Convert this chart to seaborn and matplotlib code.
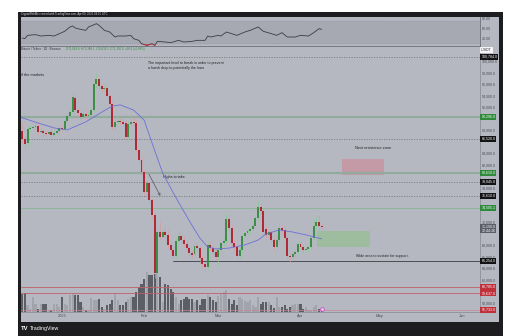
import numpy as np
import pandas as pd
import matplotlib
matplotlib.use("Agg")
import matplotlib.pyplot as plt
import matplotlib.transforms as mtransforms
from matplotlib.patches import Rectangle
import seaborn as sns

# ---------------- data ----------------
start_date = "2024-12-17"
opens = [87850, 86450, 85750, 88200, 88400, 88550, 88750, 87700, 87850, 87500,
         87350, 87700, 87150, 87500, 87850, 88400, 88200, 89600, 90450, 91150,
         93600, 91500, 91000, 90300, 90800, 90450, 90650, 91500, 96050, 96900,
         95700, 95150, 95350, 93950, 92550, 88550, 89450, 89600, 89450, 89250,
         86800, 89100, 89450, 89250, 84550, 82800, 80750, 77250, 78800, 75850,
         73250, 63150, 70300, 69450, 70300, 69800, 68050, 67150, 66100, 68750,
         69600, 68900, 68200, 67500, 66650, 66450, 67850, 67500, 65800, 64750,
         64200, 68050, 67500, 66800, 65950, 67150, 68400, 68750, 72550, 71000,
         68400, 67700, 66100, 67150, 69600, 70150, 70450, 70800, 71350, 72750,
         74650, 73950, 70800, 69800, 70300, 68900, 67700, 68900, 71000, 70650,
         69250, 66100, 65950, 66450, 66800, 68200, 67700, 67150, 67350, 67700,
         69250, 71350, 72050, 71300]
highs = [89450, 87000, 88750, 88900, 89100, 89450, 89600, 88400, 88200, 88050,
         88200, 88400, 87850, 88400, 88900, 89100, 89950, 91000, 91700, 94450,
         94100, 91850, 91350, 91150, 91500, 91150, 91850, 96550, 97950, 97250,
         96200, 95850, 95700, 94300, 92900, 90300, 90650, 90300, 89950, 89750,
         89600, 90100, 90450, 89750, 84900, 83350, 81100, 79350, 79150, 76200,
         73600, 71000, 72050, 71000, 71350, 70650, 68550, 67700, 69250, 70650,
         70100, 69600, 68750, 67850, 67150, 68400, 68400, 67850, 66100, 65100,
         68550, 68750, 68050, 67350, 67700, 68900, 69450, 73600, 73450, 71500,
         68900, 68200, 67700, 69950, 70450, 70800, 71150, 71850, 73250, 75850,
         75350, 74300, 71350, 70800, 70800, 69450, 69600, 72050, 71500, 71350,
         69600, 66650, 67000, 67350, 68750, 68750, 68050, 67850, 68050, 69800,
         72750, 73100, 73250, 71700]
lows = [85750, 84550, 85250, 87850, 88050, 88200, 87150, 87350, 87000, 87000,
        87150, 86800, 87000, 87150, 87500, 87700, 87850, 89250, 90100, 90800,
        91000, 90450, 89450, 89950, 89950, 90100, 90300, 91150, 95350, 95150,
        94650, 94800, 93600, 92200, 88050, 88050, 89100, 88900, 88550, 86450,
        86450, 88750, 88750, 84200, 81950, 80200, 76750, 76400, 75350, 72750,
        62300, 62650, 68900, 68900, 69250, 67500, 66650, 65600, 65800, 68400,
        68400, 67700, 67000, 66100, 65800, 66100, 67000, 65250, 64050, 63350,
        63700, 67000, 66300, 65450, 64400, 66650, 67850, 68400, 70450, 67850,
        67150, 65800, 65800, 66800, 69250, 69800, 70150, 70450, 71000, 72400,
        73450, 69800, 69250, 69250, 68400, 67150, 67150, 68400, 70150, 68750,
        65600, 65100, 65450, 65950, 66300, 67150, 66650, 66800, 67000, 67350,
        68900, 70800, 70650, 70800]
closes = [86450, 85600, 88200, 88400, 88550, 88750, 87700, 87850, 87500, 87350,
          87700, 87150, 87500, 87850, 88400, 88200, 89600, 90450, 91150, 93750,
          91500, 91000, 90300, 90800, 90450, 90650, 91500, 96050, 96900, 95700,
          95150, 95350, 93950, 92550, 88550, 89450, 89600, 89450, 89100, 86800,
          89100, 89450, 89250, 84550, 82800, 80750, 77250, 78800, 75850, 73250,
          63150, 70300, 69450, 70300, 69800, 68050, 67150, 66100, 68750, 69600,
          68900, 68200, 67500, 66650, 66300, 67850, 67500, 65800, 64750, 64200,
          68050, 67500, 66800, 65950, 67150, 68400, 68750, 72550, 71000, 68400,
          67700, 66100, 67150, 69600, 70150, 70450, 70800, 71350, 72750, 74650,
          73950, 70300, 69800, 70300, 68900, 67700, 68900, 71000, 70650, 69250,
          66100, 65950, 66450, 66800, 68200, 67700, 67150, 67350, 67700, 69250,
          71350, 72050, 71300, 71150]
volume = [18, 19, 7, 3, 15, 8, 3, 8, 8, 8, 2, 2, 8, 8, 5, 15, 8, 7, 17, 18,
          17, 17, 10, 5, 2, 2, 14, 12, 12, 13, 5, 3, 7, 8, 12, 18, 12, 7, 7, 10,
          13, 15, 15, 20, 25, 28, 33, 40, 37, 37, 38, 43, 35, 10, 28, 27, 23, 20, 15, 8,
          12, 13, 15, 13, 13, 10, 12, 7, 13, 13, 17, 15, 12, 10, 16, 18, 20, 22, 13, 8,
          12, 7, 15, 13, 11, 10, 12, 7, 5, 15, 8, 10, 10, 10, 7, 4, 15, 5, 5, 7,
          3, 5, 7, 8, 8, 8, 3, 5, 2, 2, 5, 7, 3, 2]

ma_day = [-16, -9, -3, 2, 9, 15, 19, 22, 27, 31, 34, 38, 42, 45, 49, 52, 55,
          58, 63, 69, 74, 77, 82, 87, 92, 98]
ma_val = [90300, 89250, 88400, 88050, 89450, 91150, 92200, 92400, 91500, 89750,
          85750, 80550, 77100, 74650, 71500, 69250, 67700, 67350, 67500, 68050,
          68900, 69950, 70650, 70300, 69800, 69100]

rsi_day = [-15, -14, -13, -10, -8, -5, -3, -1, 1, 3, 4, 5, 7, 9, 10, 13, 14, 16,
           18, 20, 21, 24, 26, 27, 29, 30, 32, 34, 35, 36, 39, 41, 44, 46, 49, 51,
           54, 55, 56, 59, 60, 62, 64, 66, 69, 71, 74, 76, 79, 81, 83, 85, 88, 90,
           93, 95, 97, 98]
rsi_val = [40, 38.7, 45.3, 46.7, 44, 45.3, 44, 48.7, 53.3, 62, 64, 60, 57.3, 55.3,
           62, 68.7, 65.3, 55.3, 52, 42, 44, 44, 45.3, 38.7, 35.3, 28.7, 25.3, 28.7,
           25.3, 33.3, 32, 30.7, 35.3, 32, 33.3, 35.3, 35.3, 44, 42, 45.3, 44, 52,
           48.7, 45.3, 52, 55.3, 62, 53.3, 48.7, 45.3, 50.7, 42, 42, 45.3, 44, 50.7,
           58.7, 57.3]

month_dates = ["2025-01-01", "2025-02-01", "2025-03-01", "2025-04-01", "2025-05-01", "2025-06-01"]
month_labels = ["2025", "Feb", "Mar", "Apr", "May", "Jun"]

price_ticks = [100000, 98000, 96000, 94000, 92000, 88000, 84000, 82000, 78000,
               72000, 68000, 66000, 64000, 62000, 58000]
dashed_levels = [100784.0, 86520.0, 79045.0, 76610.0]
thick_green_levels = [90296.0, 80610.0]
thin_green_level = 74505.1
support_level = 65254.0
red_levels = [60785.0, 59637.0, 56733.0]
last_price = 71150.0

# ---------------- style ----------------
sns.set_theme(style="white")
plt.rcParams['font.family'] = ['Liberation Sans', 'DejaVu Sans']

W, H = 510, 336
BG = "#b6b8c1"
BAND = "#a6a8b2"
TXT = "#4b4d56"
UP, DOWN = "#3b8f46", "#b02a35"
UPW, DOWNW = "#8fc49a", "#d39aa2"

def fx(px):
    return px / W

def fy(py):
    return 1 - py / H

fig = plt.figure(figsize=(W / 100, H / 100), dpi=100)
fig.patch.set_facecolor("white")
fig.patches.append(Rectangle((fx(18.3), fy(336)), fx(503) - fx(18.3), fy(11.7) - fy(336),
                             transform=fig.transFigure, fc="#1d1d20", ec="none", zorder=-2))
fig.patches.append(Rectangle((fx(20.7), fy(321.5)), fx(499.5) - fx(20.7), fy(16.5) - fy(321.5),
                             transform=fig.transFigure, fc=BG, ec="none", zorder=-1))

L_PX, R_PX = 20.7, 480.0
main_rect = [fx(L_PX), fy(312), fx(R_PX) - fx(L_PX), fy(45.5) - fy(312)]
rsi_rect = [fx(L_PX), fy(45.5), fx(R_PX) - fx(L_PX), fy(16.5) - fy(45.5)]
XMIN, XMAX = (L_PX - 62) / 2.65, (R_PX - 62) / 2.65

dates = pd.date_range(start_date, periods=len(closes), freq="D")
day = np.asarray((dates - pd.Timestamp("2025-01-01")).days, dtype=float)
o = np.array(opens, float); c = np.array(closes, float)
h = np.array(highs, float); l = np.array(lows, float)
up = c >= o

# ---------------- volume (behind) ----------------
ax_vol = fig.add_axes(main_rect)
ax_vol.patch.set_visible(False)
ax_vol.bar(day, volume, width=0.8, color=np.where(up, "#a2a4ad", "#5c5e66"), linewidth=0)
ax_vol.set_xlim(XMIN, XMAX)
ax_vol.set_ylim(0, 266.5)
ax_vol.axis("off")

# ---------------- main price axes ----------------
ax = fig.add_axes(main_rect)
ax.patch.set_visible(False)
ax.set_xlim(XMIN, XMAX)
ax.set_ylim(56385.7, 102730)

for lv in dashed_levels:
    ax.axhline(lv, color="#666870", lw=0.45, ls=(0, (2, 2)))
for lv in thick_green_levels:
    ax.axhline(lv, color="#93ab9e", lw=1.6)
ax.axhline(thin_green_level, color="#86b592", lw=0.6)
ax.plot([42, XMAX], [support_level, support_level], color="#3a3c44", lw=0.6)
ax.axhline(red_levels[0], color="#c0606a", lw=0.6)
ax.axhline(red_levels[1], color="#c0606a", lw=0.6)
ax.axhline(red_levels[2], color="#c98590", lw=0.5)

# zones
ax.add_patch(Rectangle((105.5, 80210), 16.0, 82993 - 80210, fc="#c39aa5", ec="none", zorder=1))
ax.add_patch(Rectangle((96.1, 67637), 20.1, 70471 - 67637, fc="#9dbd9e", ec="none", zorder=1))

# candles
ax.vlines(day, l, h, colors=np.where(up, UPW, DOWNW), lw=0.5, zorder=3)
body_lo = np.minimum(o, c)
body_h = np.maximum(np.abs(c - o), 120)
ax.bar(day, body_h, bottom=body_lo, width=0.72, color=np.where(up, UP, DOWN), linewidth=0, zorder=4)

# moving average
sns.lineplot(x=ma_day, y=ma_val, ax=ax, color="#6b70d6", lw=0.6, zorder=5)

# annotations
ax.annotate("", xy=(37.6, 76158), xytext=(32.3, 80784),
            arrowprops=dict(arrowstyle="->", color="#55575f", lw=0.5, mutation_scale=4))
ax.text(-15.5, 97600, "if the markets", fontsize=2.8, color="#202127", va="center", ha="left")
ax.text(32.5, 99687, "The important level to break in order to prevent", fontsize=2.6, color="#202127", va="center")
ax.text(32.5, 98817, "a harsh drop to potentially the lows", fontsize=2.6, color="#202127", va="center")
ax.text(38.3, 79863, "Highs to take.", fontsize=2.7, color="#202127", va="center")
ax.text(110.6, 84905, "Next resistance zone", fontsize=2.8, color="#202127", va="center")
ax.text(111.0, 66124, "Wide area to sustain for support.", fontsize=2.6, color="#202127", va="center")
ax.scatter([98.1], [56907], s=7, facecolor="#f2c6f2", edgecolor="#c550c5", linewidths=0.6, zorder=6)

# axes styling
for s in ["left", "top"]:
    ax.spines[s].set_visible(False)
for s in ["right", "bottom"]:
    ax.spines[s].set_color("#8e9099")
    ax.spines[s].set_linewidth(0.6)
ax.yaxis.tick_right()
ax.set_yticks(price_ticks)
ax.set_yticklabels([f"{v:,.1f}" for v in price_ticks])
ax.tick_params(axis="y", length=0, pad=1.6, labelsize=2.6, labelcolor=TXT)
md = (pd.to_datetime(month_dates) - pd.Timestamp("2025-01-01")).days
ax.set_xticks(list(md))
ax.set_xticklabels(month_labels)
ax.tick_params(axis="x", length=0, pad=1.2, labelsize=2.9, labelcolor=TXT)
ax.set_xlabel(""); ax.set_ylabel("")
ax.grid(False)

# price boxes
trans = mtransforms.blended_transform_factory(ax.transAxes, ax.transData)
def box(price, label, fc, tc="white"):
    ax.text(1.003, price, label, transform=trans, fontsize=2.6, color=tc, va="center", ha="left",
            bbox=dict(boxstyle="square,pad=0.25", fc=fc, ec="none"), clip_on=False, zorder=10)

box(101947, "USDT ", "#f4f4f6", "#333")
box(dashed_levels[0], "100,784.0", "#131316")
box(thick_green_levels[0], "90,296.0", "#2e8a3a")
box(dashed_levels[1], "86,520.0", "#131316")
box(thick_green_levels[1], "80,610.0", "#2e8a3a")
box(dashed_levels[2], "79,045.0", "#131316")
box(dashed_levels[3], "76,610.0", "#131316")
box(thin_green_level, "74,505.1", "#2e8a3a")
ax.text(1.003, 70906, f"{last_price:,.1f}\n12:44:36", transform=trans, fontsize=2.6, color="white",
        va="center", ha="left", linespacing=1.0,
        bbox=dict(boxstyle="square,pad=0.25", fc="#5b5e68", ec="none"), clip_on=False, zorder=10)
box(support_level, "65,254.0", "#131316")
box(red_levels[0], "60,785.0", "#bf303b")
box(red_levels[1], "59,637.0", "#bf303b")
box(red_levels[2], "56,733.0", "#bf303b")

# ---------------- RSI panel ----------------
ax_rsi = fig.add_axes(rsi_rect)
ax_rsi.patch.set_visible(False)
ax_rsi.set_xlim(XMIN, XMAX)
ax_rsi.set_ylim(25, 83)
ax_rsi.axhspan(29, 75, color=BAND, lw=0)
ax_rsi.axhline(75, color="#8d8f98", lw=0.35, ls=(0, (2, 2)))
ax_rsi.axhline(29, color="#8d8f98", lw=0.35, ls=(0, (2, 2)))
sns.lineplot(x=rsi_day, y=rsi_val, ax=ax_rsi, color="#3c3d44", lw=0.6)
rd = np.array(rsi_day, float); rv = np.array(rsi_val, float)
ax_rsi.fill_between(rd, rv, 29, where=rv < 29, interpolate=True, color="#d9808a", lw=0)
red_line, = ax_rsi.plot(rd, rv, color="#c0303b", lw=0.6)
red_line.set_clip_path(Rectangle((XMIN, 20), XMAX - XMIN, 9, transform=ax_rsi.transData))
for s in ["left", "top"]:
    ax_rsi.spines[s].set_visible(False)
for s in ["right", "bottom"]:
    ax_rsi.spines[s].set_color("#6d6f78")
    ax_rsi.spines[s].set_linewidth(0.6)
ax_rsi.yaxis.tick_right()
ax_rsi.set_yticks([80, 60, 40])
ax_rsi.set_yticklabels(["80.00", "60.00", "40.00"])
ax_rsi.tick_params(axis="y", length=0, pad=1.6, labelsize=2.6, labelcolor=TXT)
ax_rsi.set_xticks([])
ax_rsi.set_xlabel(""); ax_rsi.set_ylabel("")

# ---------------- header / legend / footer ----------------
fig.text(fx(21), fy(14.2), "CryptoWithMe created with TradingView.com, Apr 09, 2025 08:15 UTC",
         fontsize=2.0, color="#d6d6da", va="center")
fig.text(fx(21), fy(49), "Bitcoin / Tether \u00b7 1D \u00b7 Binance", fontsize=2.1, color="#2a2b31", va="center")
fig.text(fx(66), fy(49), "O71,083.4  H71,388.1  L70,633.1  C71,150.0  +66.6 (+0.09%)",
         fontsize=2.1, color="#2e8a3a", va="center")
fig.text(fx(21), fy(328.5), "TV", fontsize=4.2, color="white", weight="bold", va="center")
fig.text(fx(30), fy(328.5), "TradingView", fontsize=3.8, color="white", va="center")

fig.savefig("out.png", dpi=100, facecolor=fig.get_facecolor())
